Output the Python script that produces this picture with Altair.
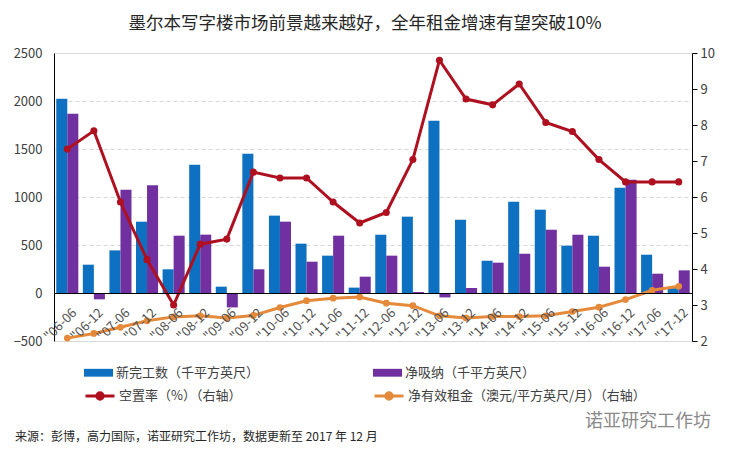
import altair as alt
import pandas as pd

# ---------------- data ----------------
periods = ["06-06", "06-12", "07-06", "07-12", "08-06", "08-12", "09-06", "09-12",
           "10-06", "10-12", "11-06", "11-12", "12-06", "12-12", "13-06", "13-12",
           "14-06", "14-12", "15-06", "15-12", "16-06", "16-12", "17-06", "17-12"]
tick_labels = ['"' + p for p in periods]

completions = [2024, 295, 444, 743, 247, 1337, 66, 1451, 806, 514, 389, 56,
               607, 795, 1795, 763, 336, 951, 868, 493, 597, 1097, 399, 50]
absorption = [1868, -66, 1076, 1122, 597, 608, -150, 247, 743, 326, 597, 170,
              389, 10, -46, 52, 316, 409, 659, 607, 274, 1180, 201, 236]
vacancy = [7.33, 7.84, 5.86, 4.26, 3.00, 4.69, 4.83, 6.69, 6.53, 6.53, 5.86, 5.28,
           5.57, 7.04, 9.80, 8.72, 8.56, 9.14, 8.07, 7.82, 7.04, 6.42, 6.42, 6.42]
rent = [2.08, 2.21, 2.38, 2.56, 2.67, 2.70, 2.64, 2.71, 2.93, 3.12, 3.19, 3.22,
        3.05, 2.98, 2.70, 2.64, 2.68, 2.68, 2.70, 2.82, 2.94, 3.15, 3.41, 3.52]

SER_C = "新完工数（千平方英尺）"
SER_A = "净吸纳（千平方英尺）"
SER_V = "空置率（%）（右轴）"
SER_R = "净有效租金（澳元/平方英尺/月）（右轴）"

title_text = "墨尔本写字楼市场前景越来越好，全年租金增速有望突破10%"
footer_text = "来源：彭博，高力国际，诺亚研究工作坊，数据更新至 2017 年 12 月"
watermark_text = "诺亚研究工作坊"

left_ticks = [-500, 0, 500, 1000, 1500, 2000, 2500]
right_ticks = [2, 3, 4, 5, 6, 7, 8, 9, 10]

# ---------------- styles ----------------
FONT = "Noto Sans CJK SC"
BLUE = "#0E70C0"
PURPLE = "#7030A0"
RED = "#AE1020"
ORANGE = "#E48A3A"
TXT = "#404040"

RECT_PATH = "M-1,-0.27L1,-0.27L1,0.27L-1,0.27Z"
LINE_DOT_PATH = ("M-1,0L1,0M-0.22,0A0.22,0.22,0,1,1,0.22,0"
                 "A0.22,0.22,0,1,1,-0.22,0Z")

# ---------------- tables ----------------
bar_df = pd.DataFrame({
    "period": tick_labels * 2,
    "series": [SER_C] * len(periods) + [SER_A] * len(periods),
    "value": completions + absorption,
})
line_df = pd.DataFrame({
    "period": tick_labels,
    "vacancy": vacancy,
    "rent": rent,
    "vname": [SER_V] * len(periods),
    "rname": [SER_R] * len(periods),
})

x_enc = alt.X(
    "period:N", sort=tick_labels,
    scale=alt.Scale(paddingInner=0.17, paddingOuter=0.085),
    axis=alt.Axis(title=None, labelAngle=315, labelAlign="right",
                  labelBaseline="top", offset=-48, ticks=False,
                  domainColor="black", domainWidth=1, labelFontSize=13,
                  labelFont=FONT, labelColor="#505050", grid=False, zindex=1,
                  labelPadding=13, labelOffset=3),
)

bars = alt.Chart(bar_df).mark_bar().encode(
    x=x_enc,
    xOffset=alt.XOffset("series:N", sort=[SER_C, SER_A],
                        scale=alt.Scale(paddingInner=0, paddingOuter=0)),
    y=alt.Y("value:Q",
            scale=alt.Scale(domain=[-500, 2500], nice=False, zero=False),
            axis=alt.Axis(values=left_ticks, title=None, ticks=False, format="d",
                          labelPadding=12, domainColor="black",
                          gridDash=[4, 3], gridColor="#d9d9d9",
                          labelFontSize=13, labelFont=FONT, labelColor=TXT)),
    color=alt.Color("series:N", sort=[SER_C, SER_A],
                    scale=alt.Scale(domain=[SER_C, SER_A], range=[BLUE, PURPLE]),
                    legend=alt.Legend(title=None, orient="none", legendX=30,
                                      legendY=305, columns=2, columnPadding=113,
                                      symbolType=RECT_PATH, symbolSize=841,
                                      symbolStrokeWidth=0, labelFontSize=13,
                                      labelFont=FONT, labelColor=TXT,
                                      labelOffset=3, padding=0, labelLimit=400)),
)

right_axis = alt.Axis(orient="right", values=right_ticks, title=None, grid=False,
                      tickSize=5, tickColor="black", domainColor="black",
                      labelPadding=3, labelFontSize=13, labelFont=FONT,
                      labelColor=TXT)
right_scale = alt.Scale(domain=[2, 10], nice=False, zero=False)

rent_line = alt.Chart(line_df).mark_line(strokeWidth=3).encode(
    x=x_enc,
    y=alt.Y("rent:Q", scale=right_scale, axis=right_axis),
    stroke=alt.Stroke("rname:N", scale=alt.Scale(domain=[SER_R], range=[ORANGE]),
                      legend=alt.Legend(title=None, orient="none", legendX=319,
                                        legendY=327, symbolType=LINE_DOT_PATH,
                                        symbolSize=841, symbolStrokeWidth=3,
                                        symbolFillColor=ORANGE,
                                        labelFontSize=13, labelFont=FONT,
                                        labelColor=TXT, labelOffset=3,
                                        padding=0, labelLimit=400)),
)
rent_pts = alt.Chart(line_df).mark_circle(size=45, opacity=1, color=ORANGE).encode(
    x=x_enc,
    y=alt.Y("rent:Q", scale=right_scale, axis=right_axis),
)
vac_line = alt.Chart(line_df).mark_line(strokeWidth=3).encode(
    x=x_enc,
    y=alt.Y("vacancy:Q", scale=right_scale, axis=right_axis),
    stroke=alt.Stroke("vname:N", scale=alt.Scale(domain=[SER_V], range=[RED]),
                      legend=alt.Legend(title=None, orient="none", legendX=30,
                                        legendY=327, symbolType=LINE_DOT_PATH,
                                        symbolSize=841, symbolStrokeWidth=3,
                                        symbolFillColor=RED,
                                        labelFontSize=13, labelFont=FONT,
                                        labelColor=TXT, labelOffset=3,
                                        padding=0, labelLimit=400)),
)
vac_pts = alt.Chart(line_df).mark_circle(size=50, opacity=1, color=RED).encode(
    x=x_enc,
    y=alt.Y("vacancy:Q", scale=right_scale, axis=right_axis),
)

right = alt.layer(rent_line, rent_pts, vac_line, vac_pts).resolve_scale(
    stroke="independent")

footer = alt.Chart(pd.DataFrame({"t": [footer_text]})).mark_text(
    align="left", baseline="middle", font=FONT, fontSize=12, color="#262626"
).encode(x=alt.value(-39), y=alt.value(384), text="t:N")

watermark = alt.Chart(pd.DataFrame({"t": [watermark_text]})).mark_text(
    align="left", baseline="middle", font=FONT, fontSize=18, color="#8a8a8a"
).encode(x=alt.value(531), y=alt.value(369), text="t:N")

chart = alt.layer(bars, right, footer, watermark).resolve_scale(
    y="independent", stroke="independent"
).properties(
    width=638, height=288,
    autosize="none",
    padding={"left": 46, "top": 45, "right": 32, "bottom": 106},
    title=alt.Title(title_text, fontSize=17.5, font=FONT, color="#262626",
                    fontWeight="normal", anchor="middle", dx=-8, offset=15),
).configure_view(stroke=None).configure(background="white")

chart.save("out.html", embed_options={"renderer": "svg", "actions": False})
